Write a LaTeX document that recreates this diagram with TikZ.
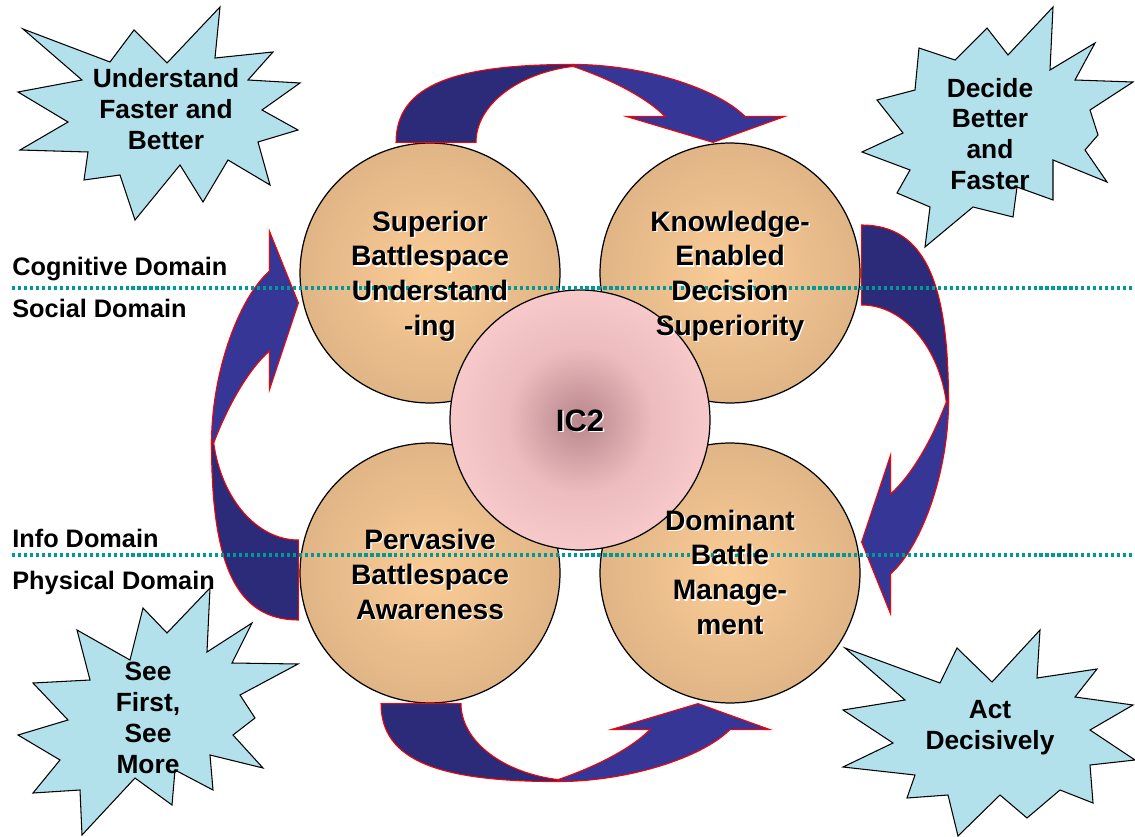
\documentclass[tikz,border=0pt]{standalone}
\usepackage{fontspec}
\setmainfont{Liberation Sans}
\usetikzlibrary{calc}

\definecolor{tanin}{RGB}{250,204,150}
\definecolor{tanout}{RGB}{211,169,125}
\definecolor{rosein}{RGB}{184,134,140}
\definecolor{rosemid}{RGB}{236,188,190}
\definecolor{roseout}{RGB}{252,207,207}
\definecolor{navydark}{RGB}{43,43,122}
\definecolor{navylight}{RGB}{54,54,150}
\definecolor{domainteal}{RGB}{0,153,153}
\definecolor{burstblue}{RGB}{178,225,236}

\pgfdeclareradialshading{tanball}{\pgfpointorigin}
  {color(0bp)=(tanin); color(38bp)=(tanout); color(50bp)=(tanout)}
\pgfdeclareradialshading{roseball}{\pgfpointorigin}
  {color(0bp)=(rosein); color(14bp)=(rosemid); color(30bp)=(roseout); color(50bp)=(roseout)}

% bold text with a light drop shadow
\newcommand{\embossed}[1]{%
  \rlap{\kern0.8pt\raisebox{-0.8pt}{\color{white}\begin{tabular}{@{}c@{}}#1\end{tabular}}}%
  \begin{tabular}{@{}c@{}}#1\end{tabular}}

% curved block arrow, tail at (0,0)--(80,0), tip at (317,0)
\newcommand{\cyclearrow}{%
  \filldraw[dark part] (0,0) .. controls (0,58) and (60,78) .. (177,78)
    -- (177,76) .. controls (121,69) and (80,37) .. (80,0) -- cycle;
  \filldraw[light part] (177,78) .. controls (245,78) and (320,55) .. (349,26)
    -- (389,26) -- (317,0) -- (230,26) -- (269,26)
    .. controls (250,45) and (215,63) .. (177,76) -- cycle;
}

\tikzset{
  ball/.style={circle, draw=black, line width=0.7pt, minimum size=5.2cm,
    inner sep=0pt, shade, shading=tanball},
  hub/.style={ball, shading=roseball},
  balltext/.style={inner sep=0pt, font=\fontsize{16}{19.8}\selectfont\bfseries},
  dark part/.style={fill=navydark, draw=red, line width=0.6pt},
  light part/.style={fill=navylight, draw=red, line width=0.6pt},
  domainline/.style={domainteal, line width=2.2pt, dash pattern=on 1.8pt off 1.6pt},
  domainlabel/.style={anchor=base west, inner sep=0pt,
    font=\fontsize{14.4}{17}\selectfont\bfseries},
  burst/.style={draw=black, line width=0.6pt, fill=burstblue},
  bursttext/.style={align=center, inner sep=0pt,
    font=\fontsize{15}{17.6}\selectfont\bfseries},
}

\begin{document}
\begin{tikzpicture}[x=0.02cm, y=-0.02cm]
    \useasboundingbox (0,0) rectangle (1135,837);

    % four capability circles
    \node[ball] (sbu) at (430,273) {};
    \node[ball] (kds) at (730,273) {};
    \node[ball] (pba) at (430,573) {};
    \node[ball] (dbm) at (730,573) {};

    % the cycle arrows
    \begin{scope}[shift={($(sbu.north)+(-34,0)$)}, x={(0.02cm,0cm)}, y={(0cm,0.02cm)}]
        \cyclearrow
    \end{scope}
    \begin{scope}[shift={($(kds.east)+(1,-48)$)}, x={(0cm,-0.02cm)}, y={(0.0223cm,0cm)}]
        \cyclearrow
    \end{scope}
    \begin{scope}[shift={($(pba.south)+(-49,0)$)}, x={(0.02cm,0cm)}, y={(0cm,-0.02cm)}]
        \cyclearrow
    \end{scope}
    \begin{scope}[shift={($(pba.west)+(-1,47)$)}, x={(0cm,0.02cm)}, y={(-0.0223cm,0cm)}]
        \cyclearrow
    \end{scope}

    \node[hub] (ic2) at (580,420) {};

    % domain boundaries
    \coordinate (upper-w) at (12,288);
    \coordinate (upper-e) at (1135,288);
    \coordinate (lower-w) at (12,555);
    \coordinate (lower-e) at (1135,555);
    \draw[domainline] (upper-w) -- (upper-e);
    \draw[domainline] (lower-w) -- (lower-e);

    \node[balltext] (sbu-txt) at ($(sbu)+(0,4)$) {\embossed{Superior\\Battlespace\\Understand\\-ing}};
    \node[balltext] (kds-txt) at ($(kds)+(0,4)$) {\embossed{Knowledge-\\Enabled\\Decision\\Superiority}};
    \node[balltext] (pba-txt) at ($(pba)+(0,5)$) {\embossed{Pervasive\\Battlespace\\Awareness}};
    \node[balltext] (dbm-txt) at ($(dbm)+(0,3)$) {\embossed{Dominant\\Battle\\Manage-\\ment}};
    \node[balltext, font=\fontsize{17.6}{20}\selectfont\bfseries] (ic2-txt) at ($(ic2)+(0,5)$) {\embossed{IC2}};

    \node[domainlabel] (cog) at (12,276) {Cognitive Domain};
    \node[domainlabel] (soc) at (12,318) {Social Domain};
    \node[domainlabel] (inf) at (12,547) {Info Domain};
    \node[domainlabel] (phy) at (12,589) {Physical Domain};

    % starbursts
    \draw[burst] (23,29) -- (110,62) -- (134,30) -- (167,63) -- (220,7) -- (215,58)
        -- (273,52) -- (248,80) -- (300,83) -- (262,110) -- (298,130) -- (258,142)
        -- (270,185) -- (228,160) -- (203,202) -- (180,165) -- (135,220) -- (120,175)
        -- (84,180) -- (88,152) -- (20,150) -- (68,122) -- (18,92) -- (82,80) -- cycle;
    \draw[burst] (1053,7) -- (1050,70) -- (1095,43) -- (1075,80) -- (1133,82) -- (1090,110)
        -- (1098,135) -- (1085,150) -- (1107,182) -- (1053,160) -- (1053,200) -- (1017,187)
        -- (1013,217) -- (973,207) -- (925,247) -- (930,207) -- (897,193) -- (910,170)
        -- (862,152) -- (903,133) -- (877,100) -- (915,90) -- (919,48) -- (955,60)
        -- (987,28) -- (1008,55) -- cycle;
    \draw[burst] (143,608) -- (167,633) -- (210,588) -- (207,652) -- (252,623) -- (232,663)
        -- (298,664) -- (240,695) -- (255,718) -- (233,735) -- (263,768) -- (210,755)
        -- (213,790) -- (175,770) -- (172,805) -- (135,778) -- (82,835) -- (80,790)
        -- (33,793) -- (60,760) -- (18,735) -- (68,720) -- (33,683) -- (90,680)
        -- (77,630) -- (130,660) -- cycle;
    \draw[burst] (1040,630) -- (1037,678) -- (1097,669) -- (1075,697) -- (1133,705) -- (1090,730)
        -- (1135,760) -- (1090,765) -- (1093,803) -- (1060,790) -- (1027,818) -- (1000,795)
        -- (958,836) -- (948,795) -- (907,798) -- (915,775) -- (843,767) -- (893,743)
        -- (843,710) -- (905,700) -- (845,648) -- (940,683) -- (957,648) -- (992,682) -- cycle;

    \node[bursttext] (understand) at (166,109) {Understand\\Faster and\\Better};
    \node[bursttext] (decide) at (990,134) {Decide\\Better\\and\\Faster};
    \node[bursttext] (see) at (148,718) {See\\First,\\See\\More};
    \node[bursttext] (act) at (990,728) {Act\\Decisively};
\end{tikzpicture}
\end{document}
